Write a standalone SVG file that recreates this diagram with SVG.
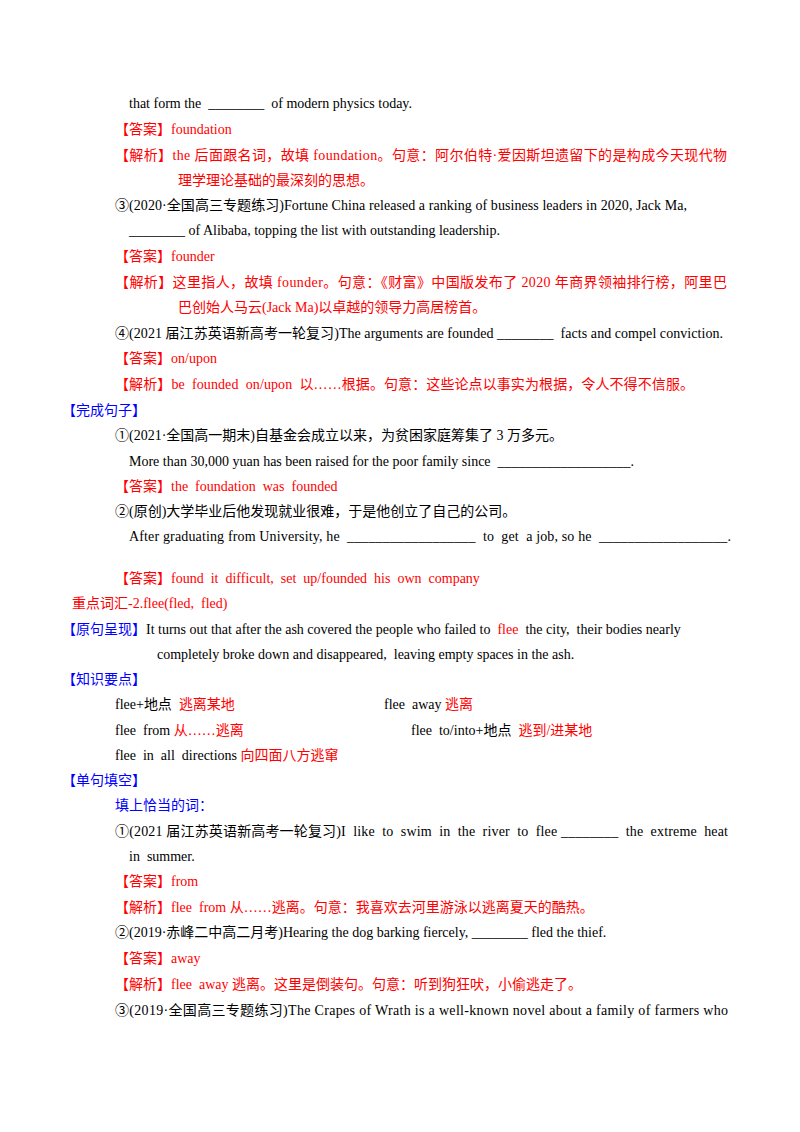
<svg xmlns="http://www.w3.org/2000/svg" width="800" height="1132" viewBox="0 0 800 1132">
<style>
text{font-family:'Liberation Serif','Times New Roman','DejaVu Serif','Noto Sans CJK SC',serif;font-size:14px;fill:#000;white-space:pre}
.r{fill:#f00}.b{fill:#00f}
</style>
<rect width="800" height="1132" fill="#fff"/>
<text x="129" y="108">that form the  ________  of modern physics today.</text>
<text x="115" y="134" class="r">【答案】foundation</text>
<text x="115" y="160" class="r" textLength="612">【解析】the 后面跟名词，故填 foundation。句意：阿尔伯特·爱因斯坦遗留下的是构成今天现代物</text>
<text x="178" y="185" class="r">理学理论基础的最深刻的思想。</text>
<text x="115" y="210" textLength="572">③(2020·全国高三专题练习)Fortune China released a ranking of business leaders in 2020, Jack Ma,</text>
<text x="129" y="235">________ of Alibaba, topping the list with outstanding leadership.</text>
<text x="115" y="261" class="r">【答案】founder</text>
<text x="115" y="287" class="r" textLength="612">【解析】这里指人，故填 founder。句意：《财富》中国版发布了 2020 年商界领袖排行榜，阿里巴</text>
<text x="178" y="312" class="r">巴创始人马云(Jack Ma)以卓越的领导力高居榜首。</text>
<text x="115" y="338" textLength="608">④(2021 届江苏英语新高考一轮复习)The arguments are founded ________  facts and compel conviction.</text>
<text x="115" y="363" class="r">【答案】on/upon</text>
<text x="115" y="389" class="r" textLength="579">【解析】be  founded  on/upon  以……根据。句意：这些论点以事实为根据，令人不得不信服。</text>
<text x="62" y="415" class="b">【完成句子】</text>
<text x="115" y="440">①(2021·全国高一期末)自基金会成立以来，为贫困家庭筹集了 3 万多元。</text>
<text x="129" y="466">More than 30,000 yuan has been raised for the poor family since  ___________________.</text>
<text x="115" y="491" class="r">【答案】the  foundation  was  founded</text>
<text x="115" y="516">②(原创)大学毕业后他发现就业很难，于是他创立了自己的公司。</text>
<text x="129" y="541" textLength="602">After graduating from University, he  __________________  to  get  a job, so he  __________________.</text>
<text x="115" y="583" class="r">【答案】found  it  difficult,  set  up/founded  his  own  company</text>
<text x="72" y="608" class="r">重点词汇-2.flee(fled,  fled)</text>
<text x="62" y="634"><tspan class="b">【原句呈现】</tspan>It turns out that after the ash covered the people who failed to  <tspan class="r">flee</tspan>  the city,  their bodies nearly</text>
<text x="157" y="659">completely broke down and disappeared,  leaving empty spaces in the ash.</text>
<text x="62" y="684" class="b">【知识要点】</text>
<text x="115" y="709">flee+地点  <tspan class="r">逃离某地</tspan></text>
<text x="384" y="709">flee  away <tspan class="r">逃离</tspan></text>
<text x="115" y="735">flee  from <tspan class="r">从……逃离</tspan></text>
<text x="411" y="735">flee  to/into+地点  <tspan class="r">逃到/进某地</tspan></text>
<text x="115" y="760">flee  in  all  directions <tspan class="r">向四面八方逃窜</tspan></text>
<text x="62" y="785" class="b">【单句填空】</text>
<text x="115" y="810" class="b">填上恰当的词：</text>
<text x="115" y="836" textLength="613">①(2021 届江苏英语新高考一轮复习)I  like  to  swim  in  the  river  to  flee ________  the  extreme  heat</text>
<text x="129" y="861">in  summer.</text>
<text x="115" y="886" class="r">【答案】from</text>
<text x="115" y="912" class="r">【解析】flee  from 从……逃离。句意：我喜欢去河里游泳以逃离夏天的酷热。</text>
<text x="115" y="937">②(2019·赤峰二中高二月考)Hearing the dog barking fiercely, ________ fled the thief.</text>
<text x="115" y="963" class="r">【答案】away</text>
<text x="115" y="989" class="r">【解析】flee  away 逃离。这里是倒装句。句意：听到狗狂吠，小偷逃走了。</text>
<text x="115" y="1015" textLength="613">③(2019·全国高三专题练习)The Crapes of Wrath is a well-known novel about a family of farmers who</text>
</svg>
